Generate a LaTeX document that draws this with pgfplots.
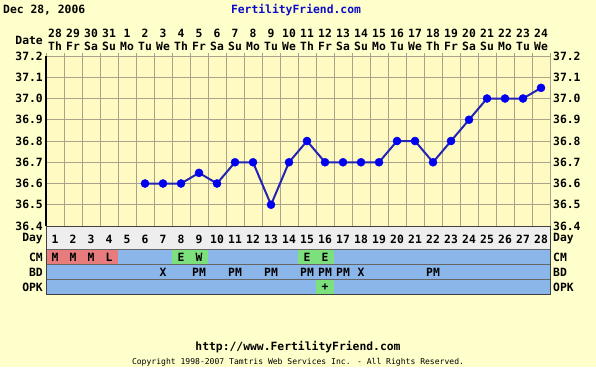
\documentclass[border=0pt]{standalone}
\usepackage{fontspec}
\setmainfont{DejaVu Sans Mono}
\usepackage{pgfplots}
\pgfplotsset{compat=1.18}
\definecolor{bg}{HTML}{FFFFCC}
\definecolor{plotbg}{HTML}{FFFAC2}
\definecolor{gridc}{RGB}{168,164,140}
\definecolor{tgrid}{RGB}{140,140,140}
\definecolor{cellblue}{HTML}{8AB6EA}
\definecolor{cellred}{HTML}{E87C7C}
\definecolor{cellgreen}{HTML}{7CE07C}
\definecolor{dayrow}{HTML}{EEEEEE}
\definecolor{linec}{HTML}{2424B4}
\definecolor{markc}{HTML}{0000F0}
\definecolor{titleblue}{HTML}{0C0CC8}
\newcommand\pixb{\fontsize{11.4}{13}\selectfont\bfseries}
\newcommand\pixs{\fontsize{8.1}{9}\selectfont}
\begin{document}
\begin{tikzpicture}[x=1bp,y=1bp]
\fill[bg] (0,0) rectangle (596,367);
\useasboundingbox (0,0) rectangle (596,367);
% titles
\node[anchor=west, font=\pixb, inner sep=0pt] at (3,357) {Dec 28, 2006};
\node[font=\pixb, text=titleblue, inner sep=0pt] at (296,357) {FertilityFriend.com};
\node[anchor=east, font=\pixb, inner sep=0pt] at (43,327) {Date};
% row labels
\foreach \lab/\yy in {Day/128,CM/110,BD/95,OPK/80}{
  \node[anchor=east, font=\pixb, inner sep=0pt] at (43,\yy) {\lab};
  \node[anchor=west, font=\pixb, inner sep=0pt] at (553,\yy) {\lab};
}
% footer
\node[font=\pixb, inner sep=0pt] at (298,20) {http://www.FertilityFriend.com};
\node[font=\pixs, inner sep=0pt] at (298,5) {Copyright 1998-2007 Tamtris Web Services Inc. - All Rights Reserved.};

% temperature axis
\begin{axis}[at={(46bp,141bp)}, anchor=south west, scale only axis,
  width=504bp, height=170bp,
  xmin=0.5, xmax=28.5, ymin=36.4, ymax=37.2,
  axis background/.style={fill=plotbg},
  axis line style={gridc, line width=1bp},
  xtick={1,...,28},
  xticklabels={{28\\Th},{29\\Fr},{30\\Sa},{31\\Su},{1\\Mo},{2\\Tu},{3\\We},{4\\Th},{5\\Fr},{6\\Sa},{7\\Su},{8\\Mo},{9\\Tu},{10\\We},{11\\Th},{12\\Fr},{13\\Sa},{14\\Su},{15\\Mo},{16\\Tu},{17\\We},{18\\Th},{19\\Fr},{20\\Sa},{21\\Su},{22\\Mo},{23\\Tu},{24\\We}},
  xticklabel pos=upper,
  xticklabel style={align=center, font=\pixb, inner sep=0pt, yshift=5bp},
  major tick length=0pt,
  minor xtick={0.5,1.5,...,28.5},
  minor tick length=3bp, tick align=outside, xtick pos=upper,
  minor tick style={gridc, line width=1bp},
  xminorgrids, ymajorgrids,
  grid style={gridc, line width=1bp},
  minor grid style={gridc, line width=1bp},
  ytick={36.4,36.5,36.6,36.7,36.8,36.9,37.0,37.1,37.2},
  yticklabel style={font=\pixb, inner sep=0pt, xshift=-3bp,
    /pgf/number format/.cd, fixed, fixed zerofill, precision=1, assume math mode=true},
  clip=false]
\addplot[linec, line width=2bp, mark=*, mark size=4bp,
  mark options={draw=markc, fill=markc, line width=0.5bp}] coordinates {
  (6,36.6) (7,36.6) (8,36.6) (9,36.65) (10,36.6) (11,36.7) (12,36.7)
  (13,36.5) (14,36.7) (15,36.8) (16,36.7) (17,36.7) (18,36.7) (19,36.7)
  (20,36.8) (21,36.8) (22,36.7) (23,36.8) (24,36.9) (25,37.0) (26,37.0)
  (27,37.0) (28,37.05)};
\draw[black, line width=1.2bp] (rel axis cs:0,0) -- (rel axis cs:0,1);
\end{axis}
% right tick labels
\begin{axis}[at={(46bp,141bp)}, anchor=south west, scale only axis,
  width=504bp, height=170bp,
  xmin=0.5, xmax=28.5, ymin=36.4, ymax=37.2,
  axis line style={draw=none}, xtick=\empty, major tick length=0pt,
  ytick={36.4,36.5,36.6,36.7,36.8,36.9,37.0,37.1,37.2},
  yticklabel pos=right,
  yticklabel style={font=\pixb, inner sep=0pt, xshift=3bp,
    /pgf/number format/.cd, fixed, fixed zerofill, precision=1, assume math mode=true}]
\end{axis}

% table axis
\begin{axis}[at={(46bp,73bp)}, anchor=south west, scale only axis,
  width=504bp, height=68bp,
  xmin=0.5, xmax=28.5, ymin=0, ymax=68,
  axis on top,
  axis line style={black!75, line width=1bp},
  xtick=\empty, minor xtick={0.5,1.5,...,28.5}, xminorgrids,
  minor grid style={tgrid, line width=1bp},
  ytick={15,30,45}, yticklabels={}, ymajorgrids,
  major grid style={black!60, line width=1bp},
  major tick length=0pt, minor tick length=0pt]
\addplot[fill=cellblue, draw=none] coordinates {(0.5,0) (28.5,0) (28.5,45) (0.5,45)} -- cycle;
\addplot[fill=dayrow, draw=none] coordinates {(0.5,45) (28.5,45) (28.5,68) (0.5,68)} -- cycle;
\addplot[fill=cellred, draw=none] coordinates {(0.5,30) (4.5,30) (4.5,45) (0.5,45)} -- cycle;
\addplot[fill=cellgreen, draw=none] coordinates {(7.5,30) (9.5,30) (9.5,45) (7.5,45)} -- cycle;
\addplot[fill=cellgreen, draw=none] coordinates {(14.5,30) (16.5,30) (16.5,45) (14.5,45)} -- cycle;
\addplot[fill=cellgreen, draw=none] coordinates {(15.5,0) (16.5,0) (16.5,15) (15.5,15)} -- cycle;
\addplot[draw=none, mark=none, nodes near coords, point meta=explicit symbolic,
  every node near coord/.append style={anchor=center, font=\pixb, inner sep=0pt}] coordinates {
  (1,55)[1] (2,55)[2] (3,55)[3] (4,55)[4] (5,55)[5] (6,55)[6] (7,55)[7]
  (8,55)[8] (9,55)[9] (10,55)[10] (11,55)[11] (12,55)[12] (13,55)[13] (14,55)[14]
  (15,55)[15] (16,55)[16] (17,55)[17] (18,55)[18] (19,55)[19] (20,55)[20] (21,55)[21]
  (22,55)[22] (23,55)[23] (24,55)[24] (25,55)[25] (26,55)[26] (27,55)[27] (28,55)[28]};
\addplot[draw=none, mark=none, nodes near coords, point meta=explicit symbolic,
  every node near coord/.append style={anchor=center, font=\pixb, inner sep=0pt}] coordinates {
  (1,37)[M] (2,37)[M] (3,37)[M] (4,37)[L] (8,37)[E] (9,37)[W] (15,37)[E] (16,37)[E]};
\addplot[draw=none, mark=none, nodes near coords, point meta=explicit symbolic,
  every node near coord/.append style={anchor=center, font=\pixb, inner sep=0pt}] coordinates {
  (7,22)[X] (9,22)[PM] (11,22)[PM] (13,22)[PM] (15,22)[PM] (16,22)[PM] (17,22)[PM] (18,22)[X] (22,22)[PM]};
\addplot[draw=none, mark=none, nodes near coords, point meta=explicit symbolic,
  every node near coord/.append style={anchor=center, font=\pixb, inner sep=0pt}] coordinates {
  (16,7)[+]};
\end{axis}
\end{tikzpicture}
\end{document}
